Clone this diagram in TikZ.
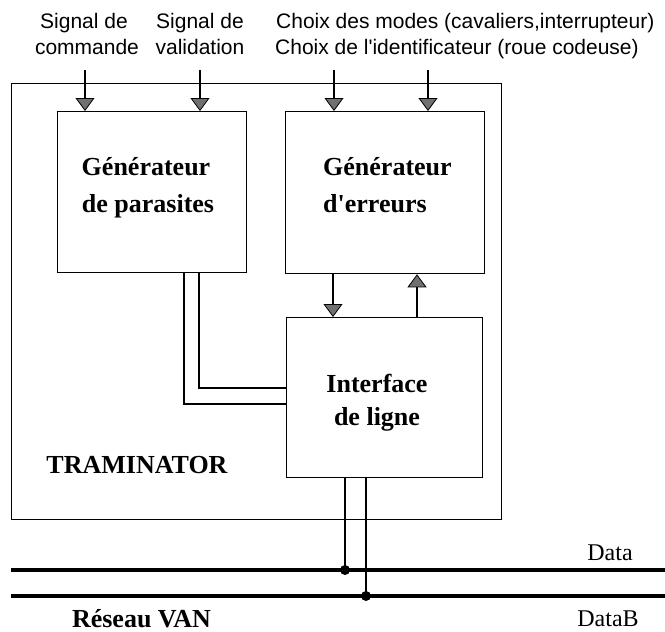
\documentclass[tikz,border=0pt]{standalone}
\usepackage{fontspec}
\setmainfont{Liberation Serif}
\setsansfont{Liberation Sans}
\usetikzlibrary{arrows.meta}
\definecolor{tipgray}{RGB}{112,112,112}
\tikzset{
  blk/.style={draw, line width=1.3pt, anchor=north west, inner sep=0pt},
  bt/.style={font=\bfseries\fontsize{26}{28}\selectfont, inner sep=0pt, anchor=base},
  st/.style={font=\sffamily\fontsize{21}{23}\selectfont, inner sep=0pt, anchor=base},
  nt/.style={font=\fontsize{24}{26}\selectfont, inner sep=0pt, anchor=base},
  arr/.style={line width=1.3pt, -{Triangle[width=19pt,length=13pt,fill=tipgray,line width=0.8pt]}},
  wire/.style={line width=1.3pt},
  bus/.style={line width=3.8pt},
}
\begin{document}
\begin{tikzpicture}[x=1pt,y=-1pt]
\useasboundingbox (0,0) rectangle (665,632);
% boxes
\node[blk, minimum width=490pt, minimum height=436pt] (tram) at (11,83) {};
\node[blk, minimum width=189pt, minimum height=161pt] (par) at (57,111) {};
\node[blk, minimum width=199pt, minimum height=162pt] (err) at (285,111) {};
\node[blk, minimum width=196pt, minimum height=160pt] (ifc) at (286,317) {};
% box texts
\node[bt] (t1) at (146,175) {Générateur};
\node[bt] (t2) at (148,212) {de parasites};
\node[bt, anchor=base west] (t3) at (323,175) {Générateur};
\node[bt, anchor=base west] (t4) at (323,212) {d\textquotesingle erreurs};
\node[bt] (t5) at (377,392) {Interface};
\node[bt] (t6) at (377,425) {de ligne};
\node[bt] (tt) at (137,473) {TRAMINATOR};
\node[bt] (rv) at (141.5,627) {Réseau VAN};
\node[nt] (dA) at (610,560) {Data};
\node[nt] (dB) at (608,626) {DataB};
% top labels
\node[st] (l1a) at (84,28) {Signal de};
\node[st] (l1b) at (87,54) {commande};
\node[st] (l2a) at (200,28) {Signal de};
\node[st] (l2b) at (200,54) {validation};
\node[st, anchor=base west] (l3a) at (276,28) {Choix des modes (cavaliers,interrupteur)};
\node[st, anchor=base west] (l3b) at (275,54) {Choix de l\textquotesingle identificateur (roue codeuse)};
% top arrows
\coordinate (s1) at (85,70);
\coordinate (s2) at (200,70);
\coordinate (s3) at (334,70);
\coordinate (s4) at (428,70);
\draw[arr] (s1) -- (s1 |- par.north);
\draw[arr] (s2) -- (s2 |- par.north);
\draw[arr] (s3) -- (s3 |- err.north);
\draw[arr] (s4) -- (s4 |- err.north);
% between err and ifc
\coordinate (d1) at (333,0);
\coordinate (u1) at (417,0);
\draw[arr] (d1 |- err.south) -- (d1 |- ifc.north);
\draw[arr] (u1 |- ifc.north) -- (u1 |- err.south);
% double wire from par to ifc
\coordinate (w1) at (199,388);
\coordinate (w2) at (184,404);
\draw[wire] (w1 |- par.south) |- (ifc.west |- w1);
\draw[wire] (w2 |- par.south) |- (ifc.west |- w2);
% bus
\coordinate (bAl) at (11,570);
\coordinate (bAr) at (665,570);
\coordinate (bBl) at (11,596);
\coordinate (bBr) at (665,596);
\draw[bus] (bAl) -- (bAr);
\draw[bus] (bBl) -- (bBr);
\coordinate (j1) at (345,570);
\coordinate (j2) at (366,596);
\draw[wire] (j1 |- ifc.south) -- (j1);
\draw[wire] (j2 |- ifc.south) -- (j2);
\fill (j1) circle (5pt);
\fill (j2) circle (5pt);
\end{tikzpicture}
\end{document}
